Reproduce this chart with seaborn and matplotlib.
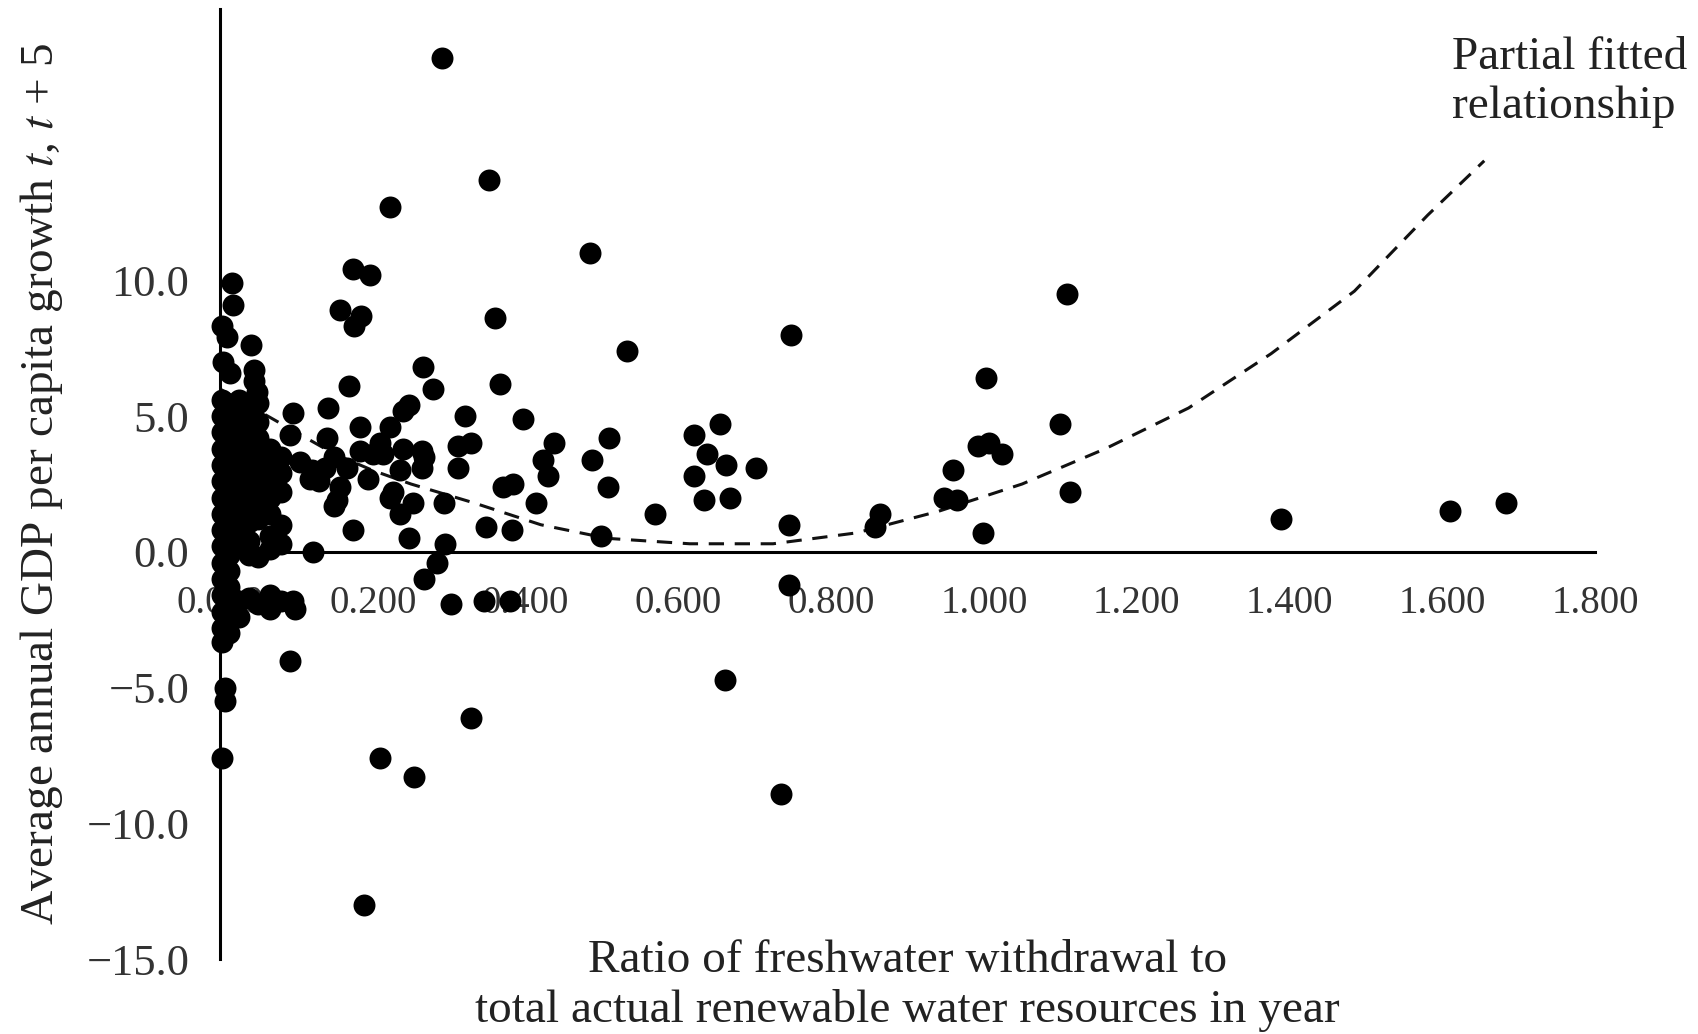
import numpy as np
import matplotlib
matplotlib.use("Agg")
import matplotlib.pyplot as plt
import seaborn as sns

# scattered countries (ratio of withdrawal, growth t..t+5)
spread_x = [
    0.291, 0.352, 0.223, 0.484, 0.174, 0.196, 1.109, 0.157, 0.185, 0.176,
    0.360, 0.748, 0.533, 0.169, 0.366, 1.003, 0.266, 0.279, 0.321, 0.396,
    0.142, 1.099, 0.654, 0.620, 0.509, 0.638, 0.487, 0.992, 1.007, 1.024,
    0.437, 0.423, 0.430, 0.328, 0.311, 0.312, 0.662, 0.701, 0.620, 0.960,
    0.508, 0.384, 0.370, 1.113, 0.634, 0.668, 0.948, 0.965, 0.414, 0.293,
    0.569, 0.864, 0.858, 0.745, 1.389, 1.610, 1.684, 0.348, 0.382, 0.499,
    0.999, 0.174, 0.122, 0.295, 0.248, 0.284, 0.267, 0.302, 0.346, 0.379,
    0.745, 0.098, 0.092, 0.661, 0.328, 0.210, 0.254, 0.735, 0.189, 0.006,
    0.006, 0.002,
]
spread_y = [
    18.2, 13.7, 12.7, 11.0, 10.4, 10.2, 9.5, 8.9, 8.7, 8.3,
    8.6, 8.0, 7.4, 6.1, 6.2, 6.4, 6.8, 6.0, 5.0, 4.9,
    5.3, 4.7, 4.7, 4.3, 4.2, 3.6, 3.4, 3.9, 4.0, 3.6,
    4.0, 3.4, 2.8, 4.0, 3.9, 3.1, 3.2, 3.1, 2.8, 3.0,
    2.4, 2.5, 2.4, 2.2, 1.9, 2.0, 2.0, 1.9, 1.8, 1.8,
    1.4, 1.4, 0.9, 1.0, 1.2, 1.5, 1.8, 0.9, 0.8, 0.6,
    0.7, 0.8, 0.0, 0.3, 0.5, -0.4, -1.0, -1.9, -1.8, -1.8,
    -1.2, -2.1, -4.0, -4.7, -6.1, -7.6, -8.3, -8.9, -13.0, -5.0,
    -5.5, -7.6,
]

# points near the vertical axis, above the dense block
upper_x = [0.016, 0.017, 0.003, 0.009, 0.040, 0.004, 0.013, 0.044, 0.048, 0.044]
upper_y = [9.9, 9.1, 8.3, 7.9, 7.6, 7.0, 6.6, 6.7, 5.9, 6.3]

# middle group between 0.1 and 0.27
middle_x = [
    0.096, 0.092, 0.183, 0.223, 0.140, 0.149, 0.183, 0.200, 0.210, 0.240,
    0.264, 0.267, 0.214, 0.264, 0.235, 0.118, 0.157, 0.138, 0.166, 0.194,
    0.149, 0.153, 0.223, 0.227, 0.253, 0.235, 0.248, 0.240, 0.105, 0.120,
    0.130,
]
middle_y = [
    5.1, 4.3, 4.6, 4.6, 4.2, 3.5, 3.7, 3.6, 4.0, 3.8,
    3.7, 3.5, 3.6, 3.1, 3.0, 2.7, 2.4, 3.1, 3.1, 2.7,
    1.7, 1.9, 2.0, 2.2, 1.8, 1.4, 5.4, 5.2, 3.3, 3.0,
    2.6,
]

# dense block of low-ratio countries
block_x = (
    [0.002] * 16
    + [0.012] * 15
    + [0.025] * 12
    + [0.038] * 11
    + [0.050] * 10
    + [0.065] * 9
    + [0.080] * 6
    + [0.095]
)
block_y = [
    5.6, 5.0, 4.4, 3.8, 3.2, 2.6, 2.0, 1.4, 0.8, 0.2, -0.4, -1.0, -1.6, -2.2, -2.8, -3.3,
    5.3, 4.7, 4.1, 3.5, 2.9, 2.3, 1.7, 1.1, 0.5, -0.1, -0.7, -1.3, -1.9, -2.5, -3.0,
    5.6, 5.0, 4.4, 3.8, 3.2, 2.6, 2.0, 1.4, 0.8, 0.2, -1.8, -2.4,
    5.3, 4.7, 4.1, 3.5, 2.9, 2.3, 1.7, 1.1, 0.4, -0.1, -1.7,
    5.5, 4.8, 4.2, 3.6, 3.0, 2.4, 1.8, 1.2, -0.2, -1.9,
    3.8, 3.2, 2.6, 2.0, 1.4, 0.6, 0.1, -1.6, -2.1,
    3.5, 2.9, 2.2, 1.0, 0.3, -1.8,
    -1.8,
]

# partial fitted relationship (dashed curve)
fit_x = [0.0, 0.05, 0.10, 0.15, 0.20, 0.25, 0.333, 0.42, 0.507, 0.615,
         0.724, 0.833, 0.941, 1.05, 1.159, 1.268, 1.376, 1.485, 1.581, 1.655]
fit_y = [6.0, 5.2, 4.4, 3.6, 3.0, 2.5, 1.8, 1.0, 0.5, 0.3,
         0.3, 0.7, 1.5, 2.5, 3.8, 5.3, 7.3, 9.6, 12.4, 14.4]

x_ticks = [0.0, 0.2, 0.4, 0.6, 0.8, 1.0, 1.2, 1.4, 1.6, 1.8]
y_ticks = [-15, -10, -5, 0, 5, 10]


def main():
    sns.set_style("white")
    plt.rcParams["font.family"] = ["Liberation Serif", "DejaVu Serif"]
    plt.rcParams["mathtext.fontset"] = "stix"

    ratio = spread_x + upper_x + middle_x + block_x
    growth = spread_y + upper_y + middle_y + block_y

    fig = plt.figure(figsize=(16.99, 10.34), dpi=100)
    ax = fig.add_axes([0.1295, 0.0722, 0.8093, 0.9194])

    sns.scatterplot(
        x=ratio,
        y=growth,
        color="black",
        s=250,
        linewidth=0,
        ax=ax,
        zorder=3,
        clip_on=False
    )

    ax.plot(
        fit_x,
        fit_y,
        color="#111111",
        lw=2.2,
        linestyle=(0, (5, 3.5)),
        zorder=2
    )

    ax.set_xlim(0, 1.8)
    ax.set_ylim(-15, 20)

    ax.spines["top"].set_visible(False)
    ax.spines["right"].set_visible(False)
    ax.spines["bottom"].set_position(("data", 0))
    for side in ["left", "bottom"]:
        ax.spines[side].set_linewidth(2.2)
        ax.spines[side].set_color("black")

    ax.set_xticks(x_ticks)
    ax.set_xticklabels([f"{v:.3f}" for v in x_ticks])
    ax.set_yticks(y_ticks)
    ax.set_yticklabels([f"{v:.1f}".replace("-", "\u2212") for v in y_ticks])
    ax.tick_params(axis="x", length=0, pad=24, labelsize=28, labelcolor="#333333")
    ax.tick_params(axis="y", length=0, pad=22, labelsize=32, labelcolor="#333333")

    ax.text(
        1.613, 17.3,
        "Partial fitted\nrelationship",
        ha="left",
        va="center",
        fontsize=34,
        color="#222222",
        linespacing=1.2
    )

    fig.text(
        0.0243, 0.532,
        "Average annual GDP per capita growth $t$, $t$ + 5",
        rotation=90,
        ha="center",
        va="center",
        fontsize=34,
        color="#222222"
    )

    fig.text(
        0.534, 0.0464,
        "Ratio of freshwater withdrawal to\ntotal actual renewable water resources in year",
        ha="center",
        va="center",
        fontsize=34,
        color="#222222",
        linespacing=1.22
    )

    fig.savefig("out.png", dpi=100)
    plt.close(fig)


if __name__ == "__main__":
    main()
